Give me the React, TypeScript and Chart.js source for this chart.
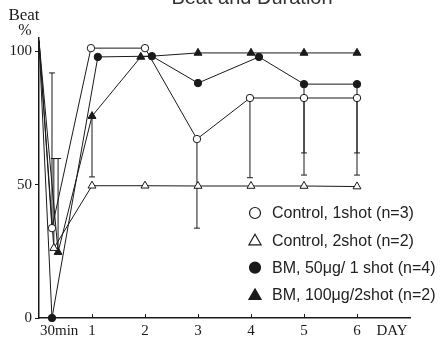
import React, { useEffect, useRef } from 'react';
import { Chart, registerables } from 'chart.js';

Chart.register(...registerables);

// ---------- data ----------
const seriesLabels = [
  'Control, 1shot (n=3)',
  'Control, 2shot (n=2)',
  'BM, 50μg/ 1 shot (n=4)',
  'BM, 100μg/2shot (n=2)',
];

// x in days (first point = injection time, second = 30 min)
const ctrl1X = [0, 0.245, 0.98, 2.0, 2.98, 3.98, 5.0, 6.0];
const ctrl1Y = [104, 33.7, 101.2, 101.2, 67.1, 82.5, 82.5, 82.5];
const ctrl1Err = [null, 91.9, null, null, 33.7, 52.6, 61.9, 61.9];

const ctrl2X = [0, 0.28, 1.0, 2.0, 3.0, 4.0, 5.0, 6.0];
const ctrl2Y = [104, 26.2, 49.6, 49.6, 49.5, 49.5, 49.5, 49.3];
const ctrl2Err = [null, 59.8, null, null, null, null, null, null];

const bm50X = [0, 0.245, 1.11, 2.13, 3.0, 4.15, 5.0, 6.0];
const bm50Y = [104, 0, 97.9, 98.2, 88.1, 97.9, 87.7, 87.7];
const bm50Err = [null, null, null, null, null, null, 53.6, 53.6];

const bm100X = [0, 0.36, 1.0, 1.92, 3.0, 4.0, 5.0, 6.0];
const bm100Y = [104, 24.7, 75.7, 97.9, 99.4, 99.4, 99.4, 99.4];
const bm100Err = [null, 59.8, 52.9, null, null, null, null, null];

const xTickValues = [0.38, 1, 2, 3, 4, 5, 6, 6.66];
const xTickLabels = ['30min', '1', '2', '3', '4', '5', '6', 'DAY'];
const yTickValues = [0, 50, 100];

const titleText = 'Beat and Duration';
const yTitleLines = ['Beat', '%'];

// ---------- helpers ----------
const INK = '#1a1a1a';

function pts(xs: number[], ys: number[]) {
  return xs.map((x, i) => ({ x, y: ys[i] }));
}

function markerPath(ctx: CanvasRenderingContext2D, style: string, x: number, y: number, r: number) {
  ctx.beginPath();
  if (style === 'circle') {
    ctx.arc(x, y, r, 0, Math.PI * 2);
  } else {
    ctx.moveTo(x, y - r);
    ctx.lineTo(x + r * 0.866, y + r * 0.5);
    ctx.lineTo(x - r * 0.866, y + r * 0.5);
    ctx.closePath();
  }
}

const errorBarPlugin = {
  id: 'errorBars',
  beforeDatasetsDraw(chart: any) {
    const ctx = chart.ctx as CanvasRenderingContext2D;
    const yScale = chart.scales.y;
    ctx.save();
    ctx.strokeStyle = INK;
    ctx.lineWidth = 1;
    chart.data.datasets.forEach((ds: any, di: number) => {
      const meta = chart.getDatasetMeta(di);
      const errs: (number | null)[] = ds.errEnds || [];
      errs.forEach((e, j) => {
        if (e == null) return;
        const el = meta.data[j];
        if (!el) return;
        const x = el.x;
        const y0 = el.y;
        const y1 = yScale.getPixelForValue(e);
        ctx.beginPath();
        ctx.moveTo(x, y0);
        ctx.lineTo(x, y1);
        ctx.moveTo(x - 3, y1);
        ctx.lineTo(x + 3, y1);
        ctx.stroke();
      });
    });
    ctx.restore();
  },
};

const decorPlugin = {
  id: 'decor',
  afterDraw(chart: any) {
    const ctx = chart.ctx as CanvasRenderingContext2D;
    const area = chart.chartArea;
    const xScale = chart.scales.x;
    ctx.save();
    // inward x tick marks for the day ticks
    ctx.strokeStyle = INK;
    ctx.lineWidth = 1;
    xTickValues.forEach((v, i) => {
      if (!/^\d+$/.test(xTickLabels[i])) return;
      const px = Math.round(xScale.getPixelForValue(v)) + 0.5;
      ctx.beginPath();
      ctx.moveTo(px, area.bottom);
      ctx.lineTo(px, area.bottom - 4);
      ctx.stroke();
    });

    // title (top cut off, as in the reference)
    ctx.fillStyle = '#333';
    ctx.font = '20px "Liberation Sans", sans-serif';
    ctx.textAlign = 'center';
    ctx.textBaseline = 'alphabetic';
    ctx.fillText(titleText, area.left + 213, 4);

    // y axis title
    ctx.fillStyle = INK;
    ctx.font = '17px "Liberation Serif", serif';
    ctx.textAlign = 'center';
    ctx.fillText(yTitleLines[0], area.left - 15, 20);
    ctx.font = '16px "Liberation Serif", serif';
    ctx.fillText(yTitleLines[1], area.left - 14, 35);

    // legend
    ctx.font = '16px "Liberation Sans", sans-serif';
    ctx.textAlign = 'left';
    ctx.textBaseline = 'middle';
    chart.data.datasets.forEach((ds: any, i: number) => {
      const y = 213 + i * 27.3;
      const mx = area.left + 216;
      markerPath(ctx, ds.pointStyle, mx, ds.pointStyle === 'circle' ? y : y + 1, ds.pointStyle === 'circle' ? 5.5 : 7);
      ctx.lineWidth = 1.2;
      ctx.strokeStyle = INK;
      ctx.fillStyle = ds.pointBackgroundColor === INK ? INK : '#fff';
      ctx.fill();
      ctx.stroke();
      ctx.fillStyle = '#222';
      ctx.fillText(ds.label, area.left + 233, y + 1);
    });
    ctx.restore();
  },
};

function makeDataset(label: string, data: any[], errEnds: (number | null)[], style: string, filled: boolean) {
  const r = style === 'circle' ? 3.7 : 4.6;
  return {
    label,
    data,
    errEnds,
    pointStyle: style,
    pointBackgroundColor: filled ? INK : '#fff',
    pointBorderColor: INK,
    pointBorderWidth: 1,
    pointRadius: (c: any) => (c.dataIndex === 0 ? 0 : r),
    borderColor: INK,
    borderWidth: 1,
    tension: 0,
    fill: false,
    clip: false as any,
  };
}

export default function App() {
  const ref = useRef<HTMLCanvasElement>(null);

  useEffect(() => {
    if (!ref.current) return;
    const chart = new Chart(ref.current, {
      type: 'line',
      data: {
        datasets: [
          makeDataset(seriesLabels[0], pts(ctrl1X, ctrl1Y), ctrl1Err, 'circle', false),
          makeDataset(seriesLabels[1], pts(ctrl2X, ctrl2Y), ctrl2Err, 'triangle', false),
          makeDataset(seriesLabels[2], pts(bm50X, bm50Y), bm50Err, 'circle', true),
          makeDataset(seriesLabels[3], pts(bm100X, bm100Y), bm100Err, 'triangle', true),
        ] as any,
      },
      options: {
        animation: false,
        responsive: true,
        maintainAspectRatio: false,
        layout: { padding: { top: 38, right: 38, left: 0, bottom: 0 } },
        plugins: {
          legend: { display: false },
          tooltip: { enabled: false },
          title: { display: false },
        },
        scales: {
          x: {
            type: 'linear',
            min: 0,
            max: 7,
            afterBuildTicks: (s: any) => {
              s.ticks = xTickValues.map((v) => ({ value: v }));
            },
            afterFit: (s: any) => {
              s.height = 25;
            },
            grid: { display: false, drawTicks: false },
            border: { display: true, color: INK, width: 1.5 },
            ticks: {
              autoSkip: false,
              maxRotation: 0,
              padding: 4,
              color: INK,
              font: { family: '"Liberation Serif", serif', size: 15 },
              callback: (v: any) => {
                const i = xTickValues.indexOf(Number(v));
                return i >= 0 ? xTickLabels[i] : '';
              },
            },
          },
          y: {
            type: 'linear',
            min: 0,
            max: 105,
            afterBuildTicks: (s: any) => {
              s.ticks = yTickValues.map((v) => ({ value: v }));
            },
            afterFit: (s: any) => {
              s.width = 39;
            },
            grid: {
              display: true,
              drawOnChartArea: false,
              drawTicks: true,
              tickLength: 4,
              color: INK,
              lineWidth: 1,
            },
            border: { display: true, color: INK, width: 1.5 },
            ticks: {
              padding: 3,
              color: INK,
              font: { family: '"Liberation Serif", serif', size: 15 },
              callback: (v: any) => String(v),
            },
          },
        },
      },
      plugins: [errorBarPlugin, decorPlugin],
    });
    return () => chart.destroy();
  }, []);

  return (
    <div style={{ position: 'absolute', left: 0, top: 0, width: 448, height: 343, background: '#fff' }}>
      <canvas ref={ref} />
    </div>
  );
}
